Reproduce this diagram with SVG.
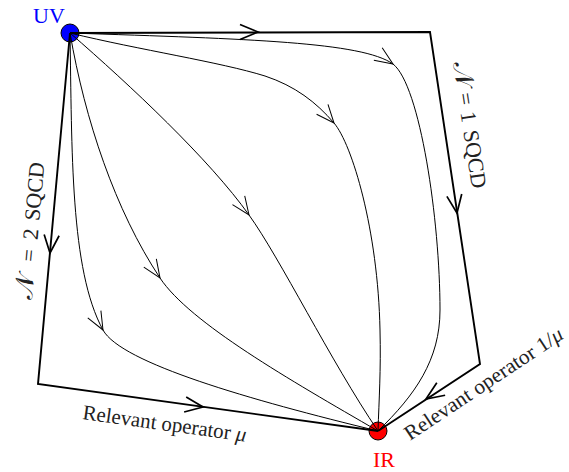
<svg xmlns="http://www.w3.org/2000/svg" xmlns:xlink="http://www.w3.org/1999/xlink" width="569" height="472" viewBox="0 0 569 472">
<style>
.bd{fill:none;stroke:#000;stroke-width:1.9;stroke-linejoin:miter}
.fl{fill:none;stroke:#000;stroke-width:1}
.bch{fill:none;stroke:#000;stroke-width:1.7}
.fch{fill:none;stroke:#000;stroke-width:1}
.lbl{fill:#222}
.node{stroke:#000;stroke-width:1}
</style>
<defs>
<path id="chev" d="M-18,-7.5 L0,0 L-18,7.5"/>
</defs>
<g id="UV">
<circle class="node" cx="70" cy="33" r="9" fill="#0000ff"/>
<text x="33" y="23" font-family="Liberation Serif, serif" font-size="22" fill="#0000ff">UV</text>
</g>
<g id="IR">
<circle class="node" cx="378" cy="431" r="9" fill="#ff0000"/>
<text x="373" y="467" font-family="Liberation Serif, serif" font-size="22" fill="#ff0000">IR</text>
</g>
<g id="connectors">
<path class="bd" d="M70,33 L430,32 L480,364 L378,431"/>
<path class="bd" d="M70,33 L38,384 L378,431"/>
<path class="fl" d="M70,33 C250,39 362,42 393,64 C420,85 440,220 440,310 C440,360 415,395 378,431"/>
<path class="fl" d="M70,33 C140,50 220,62 265,76 C295,86 316,102 334,123 C352,144 378,230 380,330 C381,370 379,400 378,431"/>
<path class="fl" d="M70,33 C130,85 210,160 249,215 C280,258 330,360 378,431"/>
<path class="fl" d="M70,33 C85,120 115,210 160,278 C190,323 290,380 378,431"/>
<path class="fl" d="M70,33 C72,150 70,270 103,330 C121,363 250,400 378,431"/>
<use class="bch" xlink:href="#chev" transform="translate(258,32) rotate(0)"/>
<use class="bch" xlink:href="#chev" transform="translate(457,213) rotate(81.4)"/>
<use class="bch" xlink:href="#chev" transform="translate(50,253) rotate(95.2)"/>
<use class="bch" xlink:href="#chev" transform="translate(203,407) rotate(7.9)"/>
<use class="bch" xlink:href="#chev" transform="translate(426,399) rotate(146.3)"/>
<use class="fch" xlink:href="#chev" transform="translate(393,64) rotate(33.7)"/>
<use class="fch" xlink:href="#chev" transform="translate(334,123) rotate(49.4)"/>
<use class="fch" xlink:href="#chev" transform="translate(249,215) rotate(54.7)"/>
<use class="fch" xlink:href="#chev" transform="translate(160,278) rotate(56.5)"/>
<use class="fch" xlink:href="#chev" transform="translate(103,330) rotate(61.2)"/>
</g>
<g id="labels">
<text class="lbl" font-family="Liberation Serif, DejaVu Serif, serif" font-size="22" transform="translate(453,63) rotate(81.4)"><tspan x="0" font-size="26">𝒩</tspan> <tspan x="31">=</tspan> <tspan x="50">1</tspan> <tspan x="69">SQCD</tspan></text>
<text class="lbl" font-family="Liberation Serif, DejaVu Serif, serif" font-size="22" transform="translate(32,300) rotate(-84.8)"><tspan x="0" font-size="26">𝒩</tspan> <tspan x="38">=</tspan> <tspan x="60">2</tspan> <tspan x="79">SQCD</tspan></text>
<text class="lbl" font-family="Liberation Serif, serif" font-size="21" transform="translate(82,419) rotate(7.9)" textLength="165" lengthAdjust="spacingAndGlyphs">Relevant operator <tspan font-style="italic">μ</tspan></text>
<text class="lbl" font-family="Liberation Serif, serif" font-size="21" transform="translate(410,441) rotate(-33.7)" textLength="186" lengthAdjust="spacingAndGlyphs">Relevant operator 1/<tspan font-style="italic">μ</tspan></text>
</g>
</svg>
